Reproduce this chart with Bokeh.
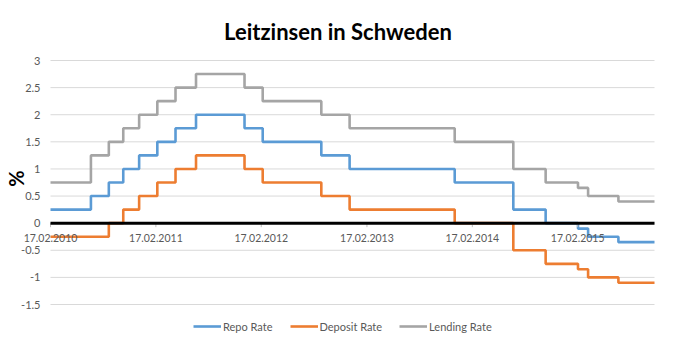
from datetime import datetime, timedelta
from bokeh.plotting import figure
from bokeh.models import Range1d, Legend, LegendItem, Label, ColumnDataSource
from bokeh.core.properties import value
from bokeh.embed import file_html
from bokeh.resources import INLINE

# ---- data ----
dates = ["2010-02-17", "2010-07-07", "2010-09-07", "2010-10-27", "2010-12-21",
         "2011-02-22", "2011-04-26", "2011-07-06", "2011-12-21", "2012-02-22",
         "2012-09-12", "2012-12-19", "2013-12-18", "2014-07-09", "2014-10-29",
         "2015-02-18", "2015-03-25", "2015-07-08", "2015-11-10"]
repo_rate = [0.25, 0.50, 0.75, 1.00, 1.25, 1.50, 1.75, 2.00, 1.75, 1.50,
             1.25, 1.00, 0.75, 0.25, 0.00, -0.10, -0.25, -0.35, -0.35]
deposit_rate = [-0.25, -0.25, 0.00, 0.25, 0.50, 0.75, 1.00, 1.25, 1.00, 0.75,
                0.50, 0.25, 0.00, -0.50, -0.75, -0.85, -1.00, -1.10, -1.10]
lending_rate = [0.75, 1.25, 1.50, 1.75, 2.00, 2.25, 2.50, 2.75, 2.50, 2.25,
                2.00, 1.75, 1.50, 1.00, 0.75, 0.65, 0.50, 0.40, 0.40]
x_tick_dates = ["2010-02-17", "2011-02-17", "2012-02-17", "2013-02-17",
                "2014-02-17", "2015-02-17"]
x_tick_labels = ["17.02.2010", "17.02.2011", "17.02.2012", "17.02.2013",
                 "17.02.2014", "17.02.2015"]
y_ticks = [-1.5, -1.0, -0.5, 0.0, 0.5, 1.0, 1.5, 2.0, 2.5, 3.0]
y_tick_labels = ["-1.5", "-1", "-0.5", "0", "0.5", "1", "1.5", "2", "2.5", "3"]
series_names = ["Repo Rate", "Deposit Rate", "Lending Rate"]
series_colors = ["#5B9BD5", "#ED7D31", "#A5A5A5"]

x = [datetime.strptime(d, "%Y-%m-%d") for d in dates]
xt = [datetime.strptime(d, "%Y-%m-%d") for d in x_tick_dates]
FONT = "Lato"
LABEL_COLOR = "#595959"
GRID_COLOR = "#D9D9D9"

# ---- layout: the frame fills the figure, plot area inside it ----
W, H = 673, 349
PLOT_L, PLOT_R, PLOT_T, PLOT_B = 50, 654, 60, 304      # plot-area box in px
px_per_day = (PLOT_R - PLOT_L) / (x[-1] - x[0]).days
px_per_unit = (PLOT_B - PLOT_T) / (y_ticks[-1] - y_ticks[0])
x_start = x[0] - timedelta(days=PLOT_L / px_per_day)
x_end = x[-1] + timedelta(days=(W - PLOT_R) / px_per_day)
y_end = y_ticks[-1] + PLOT_T / px_per_unit
y_start = y_ticks[0] - (H - PLOT_B) / px_per_unit

p = figure(width=W, height=H, output_backend="svg", toolbar_location=None,
           x_axis_type="datetime",
           x_range=Range1d(start=x_start, end=x_end),
           y_range=Range1d(start=y_start, end=y_end),
           min_border=0, min_border_left=0, min_border_right=0,
           min_border_top=0, min_border_bottom=0)
p.outline_line_color = None
p.xaxis.visible = False
p.yaxis.visible = False
p.xgrid.grid_line_color = None
p.ygrid.grid_line_color = None

# horizontal gridlines across the plot area
grid_src = ColumnDataSource(dict(x0=[x[0]] * len(y_ticks), x1=[x[-1]] * len(y_ticks),
                                 y=y_ticks, text=y_tick_labels))
p.segment(x0="x0", y0="y", x1="x1", y1="y", source=grid_src,
          line_color=GRID_COLOR, line_width=1)

renderers = []
for vals, col in zip([repo_rate, deposit_rate, lending_rate], series_colors):
    r = p.step(x=x, y=vals, mode="after", line_color=col, line_width=2.6)
    renderers.append(r)

# horizontal axis at y = 0
tick_src = ColumnDataSource(dict(x=xt, y=[0.0] * len(xt),
                                 y1=[-4 / px_per_unit] * len(xt),
                                 text=x_tick_labels))
p.segment(x0="x", y0="y", x1="x", y1="y1", source=tick_src,
          line_color="#BFBFBF", line_width=1)
p.segment(x0=[x[0]], y0=[0.0], x1=[x[-1]], y1=[0.0], line_color="black",
          line_width=3)
p.text(x="x", y="y", text="text", source=tick_src, y_offset=15,
       text_align="center", text_baseline="middle", text_font=value(FONT),
       text_font_size="10.5px", text_color=LABEL_COLOR)

# vertical axis tick labels
p.text(x="x0", y="y", text="text", source=grid_src, x_offset=-10,
       text_align="right", text_baseline="middle", text_font=value(FONT),
       text_font_size="11px", text_color=LABEL_COLOR)

# vertical axis title "%"
p.add_layout(Label(x=15, y=H - 178, x_units="screen", y_units="screen",
                   text="%", angle=1.5708, text_align="center",
                   text_baseline="middle", text_font=FONT,
                   text_font_style="bold", text_font_size="20px",
                   text_color="black"))

# chart title
p.add_layout(Label(x=337.5, y=H - 31, x_units="screen", y_units="screen",
                   text="Leitzinsen in Schweden", text_align="center",
                   text_baseline="middle", text_font=FONT,
                   text_font_style="bold", text_font_size="22px",
                   text_color="black"))

legend = Legend(items=[LegendItem(label=n, renderers=[r])
                       for n, r in zip(series_names, renderers)],
                orientation="horizontal", location=(193, H - 333),
                label_text_font=FONT, label_text_font_size="11px",
                label_text_color=LABEL_COLOR, glyph_width=28, glyph_height=14,
                label_height=14, label_standoff=2, spacing=17, padding=0,
                margin=0, border_line_color=None, background_fill_alpha=0)
p.add_layout(legend)

open("out.html", "w").write(file_html(p, INLINE))
